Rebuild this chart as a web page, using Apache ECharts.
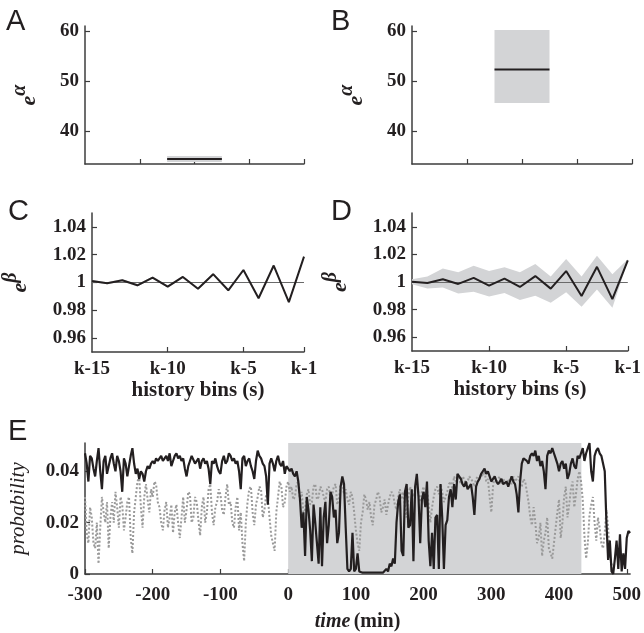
<!DOCTYPE html>
<html><head><meta charset="utf-8">
<script src="https://cdn.jsdelivr.net/npm/echarts@6/dist/echarts.min.js"></script>
<style>html,body{margin:0;padding:0;background:#fff}#c{width:644px;height:633px}</style>
</head><body><div id="c"></div>
<script>
// ---- data ----
const alphaA = [33.8, 34.4, 35.0];        // lower, estimate, upper
const alphaB = [45.6, 52.3, 60.2];
const alphaSpan = [1.5, 2.5];
const bins = [-15,-14,-13,-12,-11,-10,-9,-8,-7,-6,-5,-4,-3,-2,-1];
const binTicks = [-15,-10,-5,-1];
const betaC   = [1.001,0.9995,1.0016,0.998,1.0035,0.997,1.004,0.9955,1.006,0.9944,1.009,0.9887,1.0122,0.9859,1.0186];
const betaCLo = [1.0002,0.9988,1.0008,0.9972,1.0027,0.9962,1.0032,0.9947,1.0052,0.9936,1.0082,0.9879,1.0114,0.9851,1.0178];
const betaCHi = [1.0018,1.0002,1.0024,0.9988,1.0043,0.9978,1.0048,0.9963,1.0068,0.9952,1.0098,0.9895,1.0130,0.9867,1.0194];
const betaD   = [1.0002,0.9993,1.002,0.9986,1.003,0.9974,1.0024,0.9964,1.0043,0.9952,1.0079,0.9898,1.011,0.9876,1.0157];
const betaDLo = [0.9983,0.9952,0.996,0.9917,0.993,0.9895,0.992,0.987,0.990,0.985,0.9926,0.982,0.9945,0.9814,1.0150];
const betaDHi = [1.002,1.004,1.0098,1.007,1.0117,1.008,1.0107,1.007,1.013,1.004,1.0167,1.004,1.019,1.0057,1.0164];
const yTicksAlpha = [40, 50, 60];
const yTicksBeta = [0.96, 0.98, 1, 1.02, 1.04];
const yTicksProb = [0, 0.02, 0.04];
const xTicksTime = [-300,-200,-100,0,100,200,300,400,500];
const shadeSpan = [0, 433];
const tStart = -300, tStep = 2.5;
const blackProb = [
0.047,0.043,0.036,0.046,0.045,0.041,0.038,0.044,0.049,0.040,0.033,0.044,0.046,0.039,0.042,0.045,0.047,0.043,0.040,0.046,
0.044,0.040,0.032,0.045,0.043,0.038,0.042,0.046,0.049,0.043,0.039,0.041,0.037,0.040,0.039,0.036,0.040,0.042,0.041,0.043,
0.044,0.043,0.045,0.044,0.045,0.046,0.044,0.045,0.046,0.044,0.047,0.042,0.044,0.046,0.047,0.045,0.046,0.044,0.045,0.041,
0.038,0.042,0.044,0.046,0.046,0.043,0.043,0.045,0.041,0.044,0.045,0.043,0.044,0.041,0.035,0.044,0.043,0.045,0.042,0.040,
0.039,0.044,0.046,0.043,0.044,0.047,0.046,0.044,0.045,0.043,0.044,0.040,0.033,0.045,0.046,0.042,0.044,0.045,0.042,0.040,
0.037,0.044,0.048,0.046,0.045,0.043,0.042,0.038,0.027,0.043,0.045,0.043,0.040,0.044,0.046,0.043,0.042,0.044,0.039,0.042,
0.041,
0.040,0.041,0.039,0.038,0.040,0.036,0.029,0.018,0.024,0.007,0.030,0.025,0.017,0.005,0.027,0.020,0.012,0.004,0.026,0.003,
0.022,0.028,0.012,0.019,0.032,0.030,0.022,0.025,0.012,0.016,0.034,0.038,0.035,0.018,0.002,0.001,0.002,0.016,0.001,0.002,
0.008,0.001,0.0005,0.0005,0.0005,0.0005,0.0005,0.0005,0.0005,0.0005,0.0005,0.0005,0.0005,0.0005,0.0005,0.0005,0.0005,0.002,0.001,0.004,
0.003,0.006,0.004,0.020,0.028,0.031,0.009,0.007,0.032,0.035,0.018,0.019,0.033,0.005,0.034,0.039,0.030,0.012,0.029,0.032,
0.026,0.036,0.013,0.003,0.016,0.002,0.022,0.023,0.002,0.035,0.022,0.002,0.019,0.021,0.030,0.033,0.026,0.035,0.029,0.039,
0.038,0.037,0.035,0.034,0.036,0.033,0.034,0.035,0.030,0.023,0.034,0.036,0.037,0.039,0.040,0.041,0.039,0.040,0.038,0.036,
0.037,0.038,0.036,0.035,0.036,0.037,0.035,0.035,0.036,0.034,0.036,0.038,0.036,0.035,0.031,0.024,0.036,0.043,0.045,0.045,
0.044,0.043,0.046,0.047,0.046,0.048,0.044,0.046,0.042,0.044,0.040,0.033,0.046,0.048,0.047,0.049,0.047,0.045,0.043,0.040,
0.043,0.044,0.041,0.043,0.037,0.039,0.043,0.045,0.042,0.041,0.046,0.045,0.047,0.049,0.044,0.047,0.049,0.051,0.040,0.036,
0.046,0.048,0.049,0.047,0.046,0.046,0.040,0.020,0.0055,0.013,0.001,0.000,0.006,0.013,0.002,0.0155,0.001,0.008,0.002,0.014,
0.0167,0.016];
const grayProb = [
0.030,0.016,0.012,0.026,0.022,0.012,0.010,0.020,0.004,0.018,0.030,0.024,0.020,0.028,0.010,0.022,0.028,0.020,0.032,0.026,
0.018,0.030,0.027,0.017,0.022,0.028,0.030,0.014,0.008,0.024,0.030,0.036,0.038,0.026,0.018,0.030,0.035,0.029,0.024,0.033,
0.030,0.036,0.035,0.028,0.026,0.020,0.017,0.025,0.028,0.018,0.022,0.027,0.016,0.024,0.027,0.020,0.014,0.022,0.030,0.020,
0.025,0.032,0.031,0.020,0.022,0.030,0.028,0.021,0.015,0.026,0.030,0.020,0.024,0.033,0.035,0.024,0.019,0.026,0.028,0.033,
0.031,0.025,0.023,0.030,0.035,0.027,0.028,0.020,0.018,0.026,0.030,0.017,0.024,0.012,0.005,0.020,0.028,0.033,0.034,0.024,
0.019,0.027,0.030,0.034,0.033,0.022,0.025,0.031,0.030,0.022,0.015,0.012,0.009,0.024,0.030,0.036,0.034,0.026,0.028,0.034,
0.036,
0.032,0.034,0.029,0.030,0.035,0.036,0.028,0.032,0.024,0.025,0.031,0.033,0.027,0.028,0.034,0.035,0.029,0.030,0.034,0.033,
0.030,0.028,0.033,0.034,0.029,0.031,0.034,0.035,0.027,0.029,0.035,0.036,0.031,0.033,0.029,0.027,0.032,0.030,0.024,0.017,
0.012,0.009,0.020,0.024,0.031,0.029,0.025,0.028,0.022,0.019,0.027,0.029,0.032,0.030,0.024,0.026,0.029,0.023,0.027,0.030,
0.032,0.031,0.027,0.025,0.030,0.033,0.029,0.032,0.026,0.022,0.030,0.034,0.032,0.030,0.033,0.036,0.031,0.028,0.032,0.034,
0.029,0.033,0.027,0.020,0.026,0.030,0.033,0.034,0.031,0.035,0.032,0.028,0.030,0.032,0.035,0.036,0.033,0.038,0.036,0.038,
0.037,0.035,0.038,0.037,0.035,0.036,0.038,0.037,0.036,0.034,0.037,0.038,0.037,0.039,0.038,0.040,0.036,0.037,0.030,0.024,
0.034,0.038,0.036,0.037,0.038,0.035,0.037,0.036,0.035,0.037,0.036,0.035,0.038,0.036,0.037,0.038,0.035,0.034,0.037,0.036,
0.032,0.028,0.022,0.019,0.026,0.020,0.012,0.014,0.020,0.007,0.013,0.016,0.022,0.010,0.008,0.006,0.012,0.018,0.024,0.029,
0.014,0.020,0.030,0.034,0.022,0.027,0.033,0.036,0.026,0.031,0.037,0.040,0.036,0.029,0.015,0.006,0.012,0.023,0.027,0.030,
0.020,0.013,0.022,0.018,0.012,0.010,0.016,0.025,0.018,0.007,0.004,0.001,null,null,null,null,null,null,null,null,
null,null];

// ---- build ----
const SERIF = "'Liberation Serif','Times New Roman',serif";
const AX = '#3c3c3c', TXT = '#231f20', SHADE = '#d3d4d6', BLK = '#231f20', GRY = '#9a9a9a';
const timeMin = blackProb.map((_, i) => tStart + i * tStep);
const lbl = {color: TXT, fontFamily: SERIF, fontWeight: 'bold', fontSize: 19};
function axLine(){ return {show: true, onZero: false, lineStyle: {color: AX, width: 1.5}}; }
function tick(vals){ return {show: true, inside: true, length: 5, lineStyle: {color: AX, width: 1.2}, customValues: vals}; }
const supName = (sym) => ({
  name: '{e|e}{s|' + sym + '}', nameLocation: 'middle', nameRotate: 90,
  nameTextStyle: {rich: {
    e: {fontFamily: SERIF, fontStyle: 'italic', fontWeight: 'bold', fontSize: 22, color: TXT, verticalAlign: 'bottom', lineHeight: 30},
    s: {fontFamily: SERIF, fontStyle: 'italic', fontWeight: 'bold', fontSize: 20, color: TXT, verticalAlign: 'top', lineHeight: 30, padding: [0,0,10,0]}
  }}
});

const grids = [
  {left: 85, top: 26, width: 219, height: 138},
  {left: 412, top: 26, width: 220, height: 138},
  {left: 85, top: 213, width: 219, height: 139},
  {left: 412, top: 213, width: 220, height: 138},
  {left: 85, top: 443, width: 547, height: 140}
];
const xAxes = [], yAxes = [];
[0,1].forEach(g => {
  xAxes.push({gridIndex: g, type: 'value', min: 0, max: 4, axisLine: axLine(), axisTick: tick([1,2,3,4]), axisLabel: {show: false}, splitLine: {show: false}});
  yAxes.push(Object.assign({gridIndex: g, type: 'value', min: 33.4, max: 61, axisLine: axLine(), axisTick: tick(yTicksAlpha),
    axisLabel: Object.assign({customValues: yTicksAlpha, margin: 6}, lbl), splitLine: {show: false}, nameGap: 45}, supName('α')));
});
[2,3].forEach(g => {
  xAxes.push({gridIndex: g, type: 'value', min: -15, max: -1, axisLine: axLine(), axisTick: tick([-10,-5,-1]),
    axisLabel: Object.assign({customValues: binTicks, margin: 8, formatter: v => 'k' + v}, lbl), splitLine: {show: false},
    name: 'history bins (s)', nameLocation: 'middle', nameGap: 23, nameTextStyle: {fontFamily: SERIF, fontWeight: 'bold', fontSize: 21, color: TXT}});
  yAxes.push(Object.assign({gridIndex: g, type: 'value', min: 0.95, max: 1.05, axisLine: axLine(), axisTick: tick(yTicksBeta),
    axisLabel: Object.assign({customValues: yTicksBeta, margin: 6, formatter: v => (Math.abs(v-1) < 1e-9 ? '1' : v.toFixed(2))}, lbl), splitLine: {show: false}, nameGap: 61}, supName('β')));
});
xAxes.push({gridIndex: 4, type: 'value', min: -300, max: 505, axisLine: axLine(), axisTick: tick(xTicksTime),
  axisLabel: Object.assign({customValues: xTicksTime, margin: 12}, lbl), splitLine: {show: false},
  name: '{i|time} {b|(min)}', nameLocation: 'middle', nameGap: 38,
  nameTextStyle: {rich: {i: {fontFamily: SERIF, fontStyle: 'italic', fontWeight: 'bold', fontSize: 20, color: TXT}, b: {fontFamily: SERIF, fontWeight: 'bold', fontSize: 20, color: TXT}}}});
yAxes.push({gridIndex: 4, type: 'value', min: 0, max: 0.051, axisLine: axLine(), axisTick: tick(yTicksProb),
  axisLabel: Object.assign({customValues: yTicksProb, margin: 6, formatter: v => v === 0 ? '0' : v.toFixed(2)}, lbl), splitLine: {show: false},
  name: 'probability', nameLocation: 'middle', nameRotate: 90, nameGap: 56,
  nameTextStyle: {fontFamily: SERIF, fontStyle: 'italic', fontSize: 21, color: TXT}});

const series = [];
// A, B
[[alphaA, 0], [alphaB, 1]].forEach(([a, g]) => {
  series.push({type: 'line', xAxisIndex: g, yAxisIndex: g, symbol: 'none', silent: true,
    data: [[alphaSpan[0], a[1]], [alphaSpan[1], a[1]]], lineStyle: {color: BLK, width: 2},
    markArea: {silent: true, itemStyle: {color: SHADE}, data: [[{coord: [alphaSpan[0], a[0]]}, {coord: [alphaSpan[1], a[2]]}]]}});
});
// C, D
[[betaC, betaCLo, betaCHi, 2], [betaD, betaDLo, betaDHi, 3]].forEach(([m, lo, hi, g]) => {
  series.push({type: 'custom', xAxisIndex: g, yAxisIndex: g, silent: true, z: 1, data: [[bins[0], lo[0]]],
    renderItem: (params, api) => {
      const up = bins.map((b, i) => api.coord([b, hi[i]]));
      const dn = bins.map((b, i) => api.coord([b, lo[i]])).reverse();
      return {type: 'polygon', shape: {points: up.concat(dn)}, style: {fill: SHADE}};
    }});
  series.push({type: 'line', xAxisIndex: g, yAxisIndex: g, symbol: 'none', silent: true, data: bins.map((b, i) => [b, m[i]]),
    lineStyle: {color: BLK, width: 2}, z: 5,
    markLine: {silent: true, symbol: 'none', label: {show: false}, lineStyle: {color: '#6a6a6a', width: 1, type: 'solid'}, data: [{yAxis: 1}]}});
});
// E
series.push({type: 'line', xAxisIndex: 4, yAxisIndex: 4, symbol: 'none', silent: true, data: [], z: 1,
  markArea: {silent: true, itemStyle: {color: SHADE}, data: [[{xAxis: shadeSpan[0]}, {xAxis: shadeSpan[1]}]]}});
series.push({type: 'line', xAxisIndex: 4, yAxisIndex: 4, symbol: 'none', silent: true, z: 3,
  data: timeMin.map((t, i) => [t, grayProb[i]]), lineStyle: {color: GRY, width: 2, type: [2, 2]}});
series.push({type: 'line', xAxisIndex: 4, yAxisIndex: 4, symbol: 'none', silent: true, z: 4,
  data: timeMin.map((t, i) => [t, blackProb[i]]), lineStyle: {color: BLK, width: 2.2}});

const letters = [['A', 6, 7], ['B', 331, 7], ['C', 8, 197], ['D', 331, 197], ['E', 8, 417]];
const option = {
  animation: false,
  backgroundColor: '#fff',
  title: letters.map(([t, x, y]) => ({text: t, left: x, top: y, padding: 0, textStyle: {fontFamily: "'Liberation Sans',Arial,sans-serif", fontWeight: 'normal', fontSize: 29, color: TXT}})),
  grid: grids, xAxis: xAxes, yAxis: yAxes, series
};
const chart = echarts.init(document.getElementById('c'), null, {renderer: 'canvas'});
chart.setOption(option);
</script></body></html>
